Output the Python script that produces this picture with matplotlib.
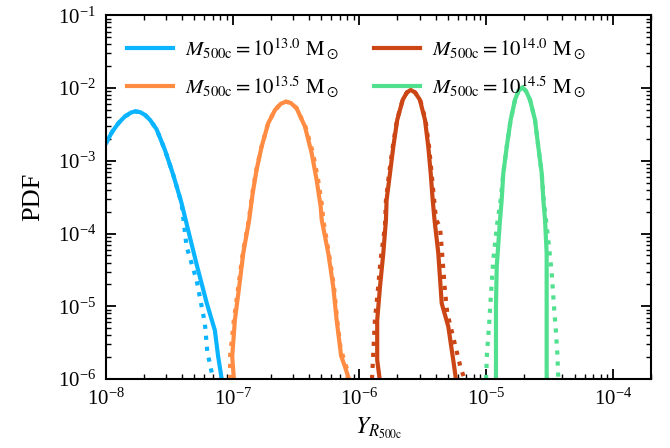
import matplotlib
matplotlib.use("Agg")
import matplotlib.pyplot as plt
import numpy as np

plt.rcParams.update({"font.family": "serif",
                     "font.serif": ["Liberation Serif", "DejaVu Serif"],
                     "mathtext.fontset": "stix",
                     "font.size": 15})

# log10(Y), log10(PDF)
# M500c = 10^13.0
b_x = [-8.0, -7.95, -7.9, -7.85, -7.8, -7.77, -7.73, -7.69, -7.65, -7.6,
       -7.534, -7.469, -7.403, -7.337, -7.28, -7.205, -7.14, -7.114, -7.086]
b_y = [-2.76, -2.6, -2.48, -2.39, -2.335, -2.32, -2.33, -2.37, -2.44, -2.565,
       -2.85, -3.19, -3.58, -4.05, -4.45, -4.95, -5.33, -5.69, -6.0]
b_xd = [-8.0, -7.95, -7.9, -7.85, -7.8, -7.77, -7.73, -7.69, -7.65, -7.6,
        -7.534, -7.469, -7.403, -7.363, -7.284, -7.219, -7.20, -7.154]
b_yd = [-2.76, -2.6, -2.48, -2.39, -2.335, -2.32, -2.33, -2.37, -2.44, -2.565,
        -2.85, -3.19, -3.58, -4.18, -4.64, -5.23, -5.62, -6.0]

# M500c = 10^13.5
o_x = [-6.99, -7.003, -6.982, -6.948, -6.916, -6.869, -6.842, -6.811, -6.771,
       -6.719, -6.665, -6.62, -6.579, -6.54, -6.495, -6.429, -6.376, -6.337,
       -6.305, -6.297, -6.245, -6.206, -6.179, -6.153, -6.144, -6.11, -6.082]
o_y = [-6.0, -5.69, -5.19, -4.73, -4.27, -3.81, -3.45, -3.125, -2.805,
       -2.483, -2.3, -2.215, -2.186, -2.205, -2.277, -2.53, -2.896, -3.263,
       -3.63, -3.81, -4.27, -4.73, -5.19, -5.55, -5.68, -5.85, -6.0]
o_xd = [-7.02, -7.02, -6.99, -6.955, -6.92, -6.872, -6.845, -6.813, -6.772,
        -6.72, -6.665, -6.62, -6.579, -6.54, -6.495, -6.425, -6.365, -6.325,
        -6.293, -6.285, -6.24, -6.2, -6.175, -6.15, -6.13, -6.1, -6.09]
o_yd = o_y

# M500c = 10^14.0
r_x = [-5.84, -5.859, -5.859, -5.837, -5.811, -5.79, -5.785, -5.758, -5.732,
       -5.701, -5.658, -5.625, -5.595, -5.56, -5.522, -5.482, -5.456, -5.437,
       -5.421, -5.407, -5.377, -5.35, -5.298, -5.259, -5.238]
r_y = [-6.0, -5.74, -5.19, -4.73, -4.27, -3.81, -3.54, -3.17, -2.805,
       -2.437, -2.162, -2.06, -2.025, -2.06, -2.162, -2.437, -2.805, -3.17,
       -3.54, -3.81, -4.27, -4.96, -5.28, -5.74, -6.0]
r_xd = [-5.9, -5.89, -5.877, -5.856, -5.832, -5.798, -5.79, -5.765, -5.736,
        -5.703, -5.658, -5.625, -5.595, -5.56, -5.52, -5.478, -5.45, -5.43,
        -5.41, -5.395, -5.364, -5.343, -5.325, -5.306, -5.27, -5.2, -5.17]
r_yd = [-6.0, -5.65, -5.19, -4.82, -4.36, -3.9, -3.54, -3.17, -2.805,
        -2.437, -2.162, -2.06, -2.025, -2.06, -2.162, -2.437, -2.805, -3.17,
        -3.54, -3.81, -3.905, -4.363, -4.776, -5.096, -5.35, -5.85, -6.0]

# M500c = 10^14.5
g_x = [-4.922, -4.922, -4.922, -4.916, -4.89, -4.877, -4.864, -4.837, -4.806,
       -4.772, -4.745, -4.714, -4.685, -4.653, -4.614, -4.588, -4.561, -4.548,
       -4.535, -4.522, -4.522]
g_y = [-6.0, -5.74, -5.0, -4.455, -3.81, -3.54, -3.17, -2.805, -2.437,
       -2.162, -2.04, -1.988, -2.04, -2.162, -2.437, -2.805, -3.17, -3.54,
       -3.81, -4.27, -6.0]
g_xd = [-5.0, -4.993, -4.977, -4.961, -4.943, -4.916, -4.885, -4.864, -4.837,
        -4.806, -4.772, -4.745, -4.714, -4.685, -4.653, -4.614, -4.588, -4.561,
        -4.545, -4.509, -4.482, -4.464, -4.448, -4.438, -4.43]
g_yd = [-6.0, -5.647, -5.28, -4.821, -4.363, -3.905, -3.54, -3.17, -2.805,
        -2.437, -2.162, -2.04, -1.988, -2.04, -2.162, -2.437, -2.805, -3.17,
        -3.54, -4.088, -4.546, -5.006, -5.37, -5.647, -6.0]

masses = ["13.0", "13.5", "14.0", "14.5"]
colors = ["#0bb4ff", "#ff8c42", "#cc4514", "#50e08e"]
solid = [(b_x, b_y), (o_x, o_y), (r_x, r_y), (g_x, g_y)]
dotted = [(b_xd, b_yd), (o_xd, o_yd), (r_xd, r_yd), (g_xd, g_yd)]

fig = plt.figure(figsize=(6.7, 4.48), dpi=100)
ax = fig.add_axes([0.158, 0.154, 0.8136, 0.8116])

for m, c, (sx, sy), (dx, dy) in zip(masses, colors, solid, dotted):
    ax.plot(10**np.array(dx), 10**np.array(dy), ls=":", lw=3, color=c)
    ax.plot(10**np.array(sx), 10**np.array(sy), ls="-", lw=3, color=c,
            solid_joinstyle="round",
            label=r"$M_{\rm 500c} = 10^{%s}\ {\rm M}_\odot$" % m)

ax.set_xscale("log")
ax.set_yscale("log")
ax.set_xlim(1e-8, 2e-4)
ax.set_ylim(1e-6, 1e-1)
ax.set_xlabel(r"$Y_{R_{\rm 500c}}$", fontsize=17)
ax.set_ylabel("PDF", fontsize=19, labelpad=10)
ax.tick_params(which="both", direction="in", top=True, right=True)
ax.tick_params(which="major", length=7, width=1.3, labelsize=15, pad=7)
ax.tick_params(which="minor", length=3.5, width=1.0)
for s in ax.spines.values():
    s.set_linewidth(1.5)
ax.legend(ncol=2, loc="upper left", frameon=False, fontsize=15,
          handlelength=2.2, handletextpad=0.6, columnspacing=1.7,
          labelspacing=0.6, borderaxespad=0.6)

fig.savefig("out.png", dpi=100)
